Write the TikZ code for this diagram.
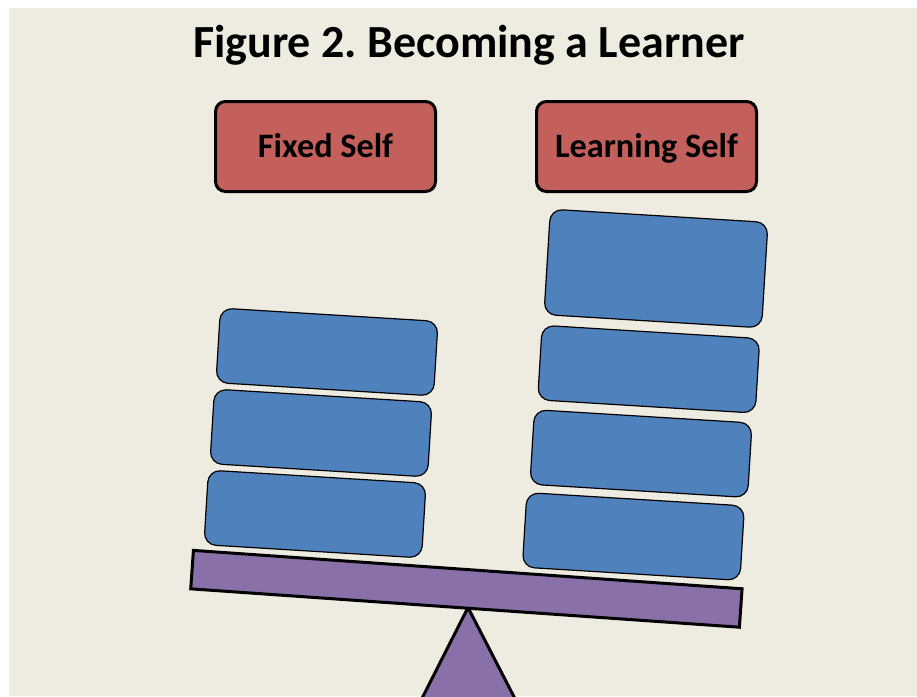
\documentclass[tikz,border=0pt]{standalone}
\usepackage{fontspec}
\setmainfont{Carlito}
\definecolor{slide}{HTML}{EEECE1}
\definecolor{selfred}{RGB}{195,96,92}
\definecolor{blockblue}{HTML}{4F81BD}
\definecolor{beampurple}{RGB}{138,112,168}
\frenchspacing

\begin{document}
\begin{tikzpicture}[x=0.75pt, y=-0.75pt,
        every node/.append style={font=\bfseries},
        every rectangle node/.append style={inner sep=0pt}]
      \tikzstyle{self} = [draw, line width=2.25pt, fill=selfred, rounded corners=7.5pt,
        minimum width=165pt, minimum height=67.5pt, text height=20.5pt, text depth=4.7pt,
        font=\bfseries\fontsize{25.7}{30}\selectfont]
      \tikzstyle{block} = [draw, line width=0.9pt, fill=blockblue, rounded corners=9pt,
        minimum width=163.5pt, minimum height=56pt, rotate=-3.5]
      \tikzstyle{plank} = [draw, line width=2.25pt, fill=beampurple,
        minimum width=412.5pt, minimum height=28.9pt, rotate=-4]
      \useasboundingbox (0,0) rectangle (917,696);
      \clip (0,0) rectangle (917,696);
      \fill[slide] (9,8) rectangle (917,696);
      \node (title) [anchor=base, font=\bfseries\fontsize{34.5}{40}\selectfont]
        at (469,57.5) {Figure 2. Becoming a Learner};
      \node (fixed) [self] at (325.5,146.5) {Fixed Self};
      \node (learning) [self] at (646.5,146.5) {Learning Self};
      % blocks on each side
      \foreach \name/\x/\y in {fix1/327/352, fix2/321/433, fix3/315/514}
        \node (\name) [block] at (\x,\y) {};
      \node (learn1) [block, minimum height=79.2pt] at (656,268.5) {};
      \foreach \name/\x/\y in {learn2/648.7/369.2, learn3/641/453.6, learn4/633.4/536.5}
        \node (\name) [block] at (\x,\y) {};
      % seesaw
      \coordinate (pivot) at (468,607.5);
      \draw[line width=2.25pt, fill=beampurple] (pivot) -- (411,720) -- (526,720) -- cycle;
      \node (beam) [plank] at (466.4,588.8) {};
    \end{tikzpicture}
\end{document}
